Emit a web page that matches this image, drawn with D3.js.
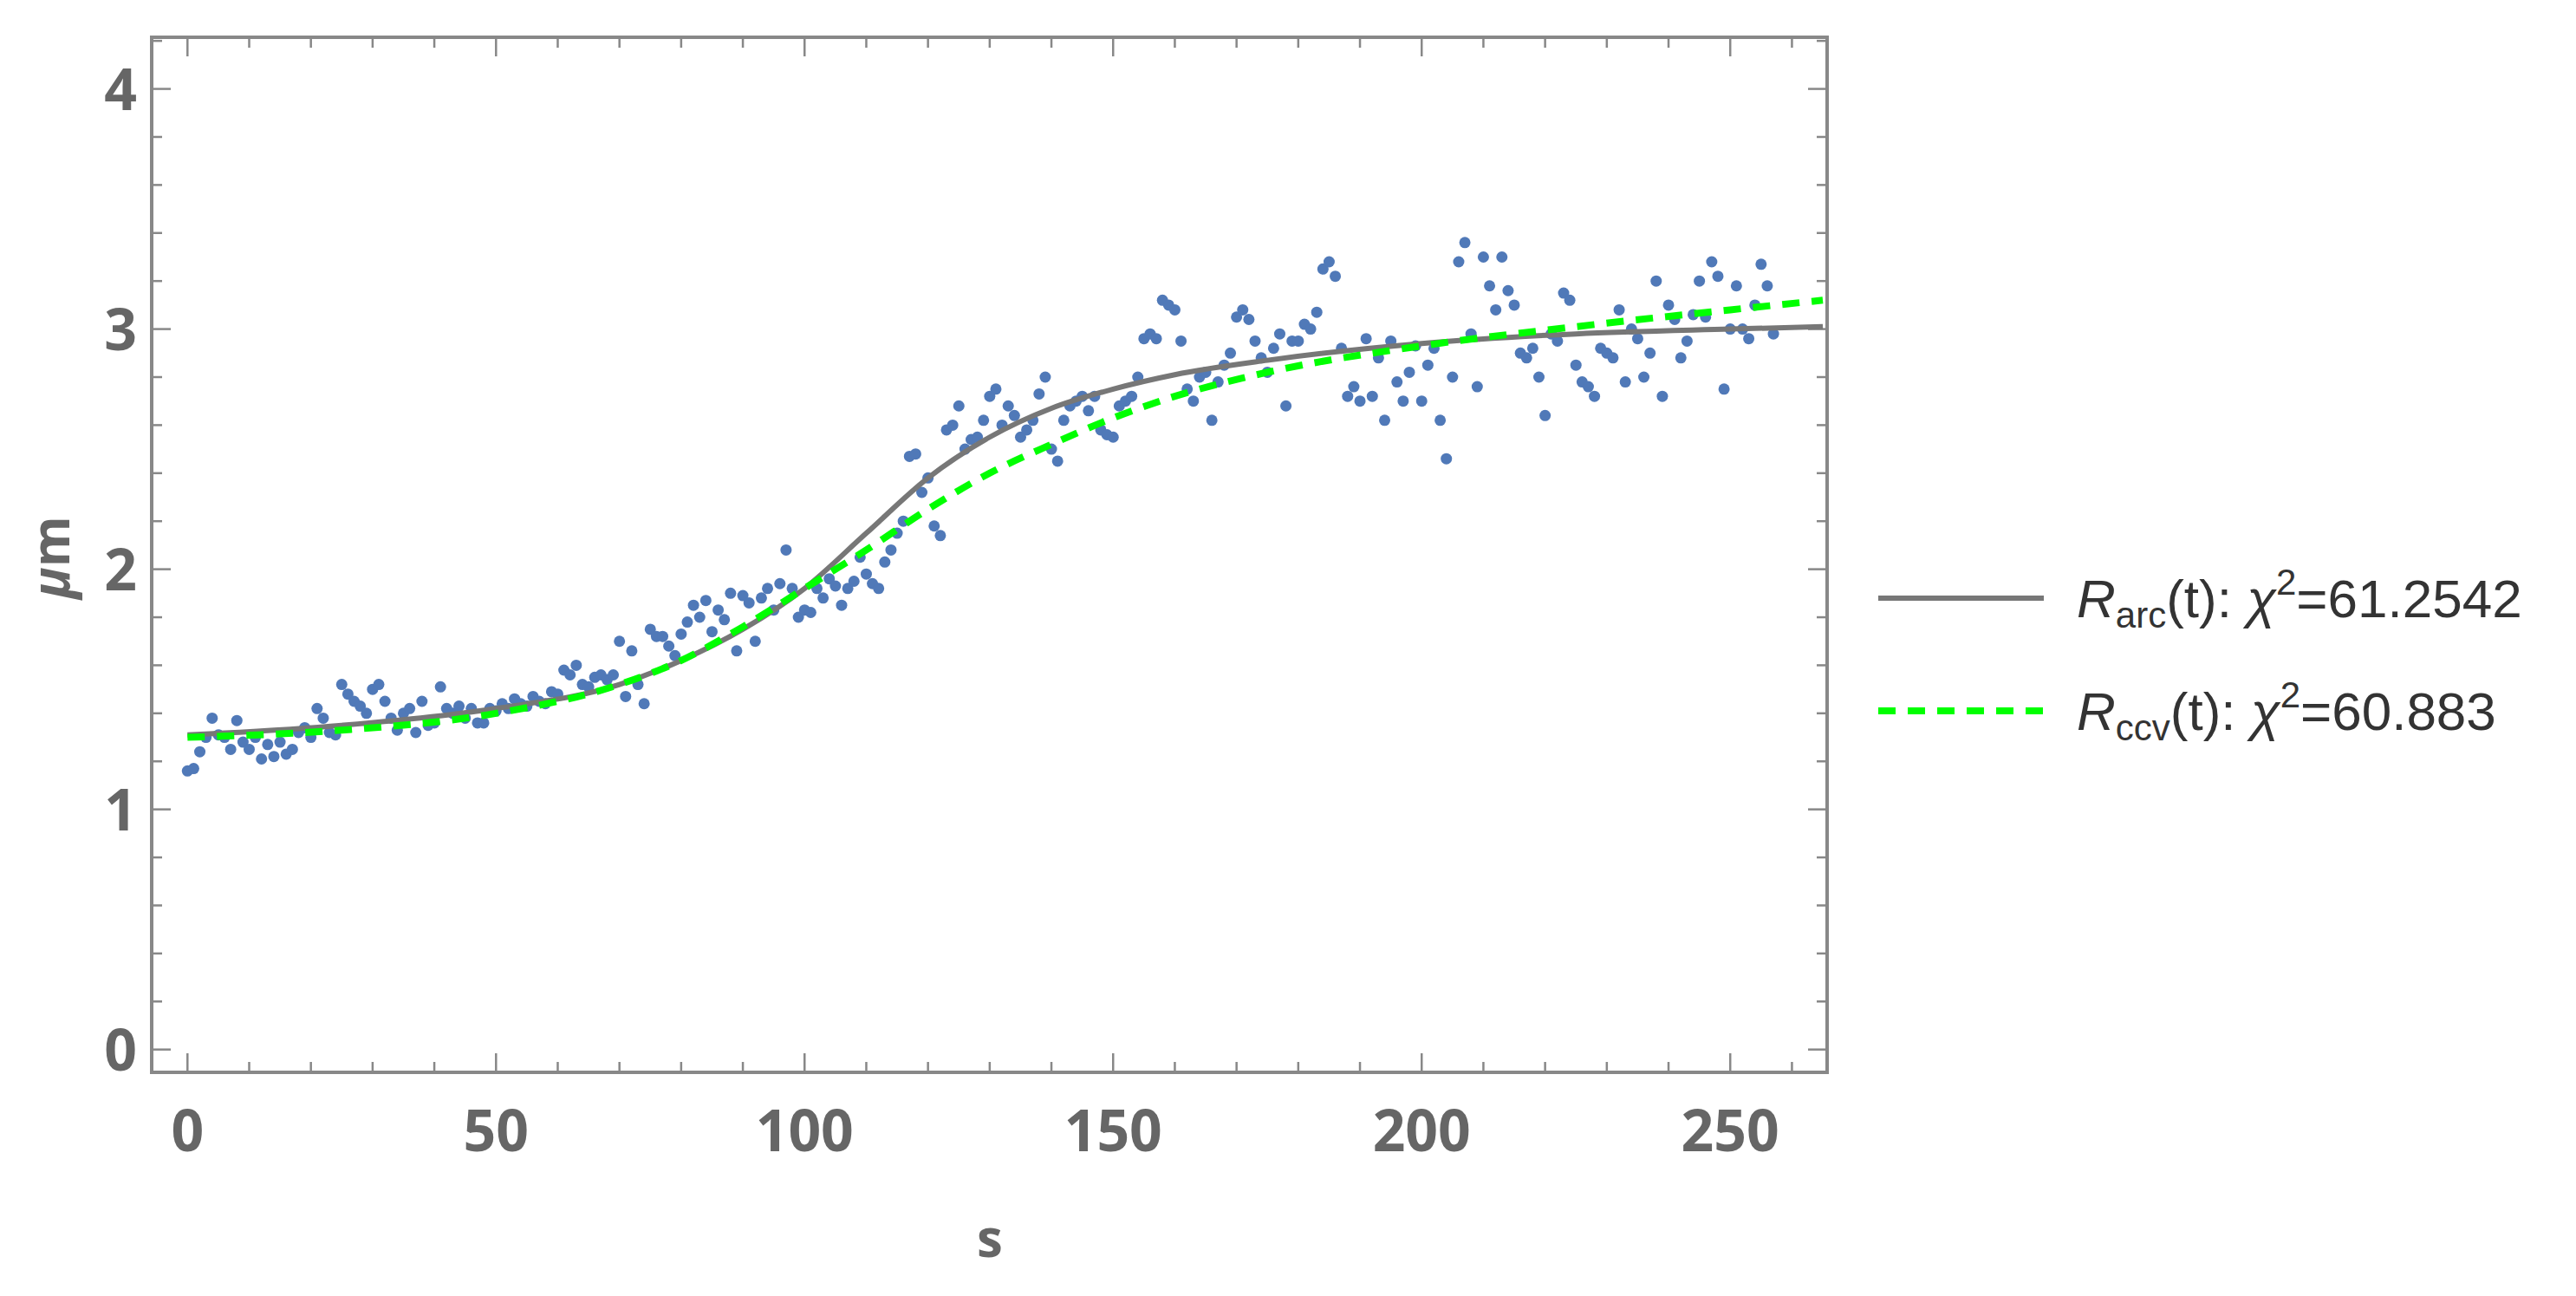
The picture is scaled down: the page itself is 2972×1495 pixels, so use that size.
<!DOCTYPE html>
<html>
<head>
<meta charset="utf-8">
<script src="https://cdn.jsdelivr.net/npm/d3@7"></script>
<style>
  body { margin: 0; background: #fff; }
  svg { display: block; }
</style>
</head>
<body>
<svg width="2972" height="1495"></svg>
<script>
// measured points, s = 0,1,2,...
var obsY = [
  1.16,1.17,1.24,1.30,1.38,1.31,1.30,1.25,1.37,1.28,
  1.25,1.30,1.21,1.27,1.22,1.28,1.23,1.25,1.32,1.34,
  1.30,1.42,1.38,1.32,1.31,1.52,1.48,1.45,1.43,1.40,
  1.50,1.52,1.45,1.38,1.33,1.40,1.42,1.32,1.45,1.35,
  1.36,1.51,1.42,1.40,1.43,1.38,1.42,1.36,1.36,1.42,
  1.41,1.44,1.42,1.46,1.44,1.43,1.47,1.45,1.44,1.49,
  1.48,1.58,1.56,1.60,1.52,1.51,1.55,1.56,1.54,1.56,
  1.70,1.47,1.66,1.52,1.44,1.75,1.72,1.72,1.68,1.64,
  1.73,1.78,1.85,1.80,1.87,1.74,1.83,1.79,1.90,1.66,
  1.89,1.86,1.70,1.88,1.92,1.83,1.94,2.08,1.92,1.80,
  1.83,1.82,1.92,1.88,1.96,1.93,1.85,1.92,1.95,2.05,
  1.98,1.94,1.92,2.03,2.08,2.15,2.20,2.47,2.48,2.32,
  2.38,2.18,2.14,2.58,2.60,2.68,2.50,2.54,2.55,2.62,
  2.72,2.75,2.60,2.68,2.64,2.55,2.58,2.62,2.73,2.80,
  2.50,2.45,2.62,2.68,2.70,2.72,2.66,2.72,2.58,2.56,
  2.55,2.68,2.70,2.72,2.80,2.96,2.98,2.96,3.12,3.10,
  3.08,2.95,2.75,2.70,2.80,2.82,2.62,2.78,2.85,2.90,
  3.05,3.08,3.04,2.95,2.88,2.82,2.92,2.98,2.68,2.95,
  2.95,3.02,3.00,3.07,3.25,3.28,3.22,2.92,2.72,2.76,
  2.70,2.96,2.72,2.88,2.62,2.95,2.78,2.70,2.82,2.93,
  2.70,2.85,2.92,2.62,2.46,2.80,3.28,3.36,2.98,2.76,
  3.30,3.18,3.08,3.30,3.16,3.10,2.90,2.88,2.92,2.80,
  2.64,2.98,2.95,3.15,3.12,2.85,2.78,2.76,2.72,2.92,
  2.90,2.88,3.08,2.78,3.00,2.96,2.80,2.90,3.20,2.72,
  3.10,3.04,2.88,2.95,3.06,3.20,3.05,3.28,3.22,2.75,
  3.00,3.18,3.00,2.96,3.10,3.27,3.18,2.98
];

// fitted curves
var fitS    = [0, 25, 50, 70, 80, 90, 100, 110, 120, 130, 140, 150, 160, 175, 200, 225, 250, 265];
var arcY    = [1.31,1.35,1.42,1.52,1.62,1.75,1.92,2.15,2.38,2.55,2.67,2.75,2.81,2.87,2.94,2.98,3.00,3.01];
var ccvY    = [1.30,1.33,1.40,1.52,1.62,1.76,1.92,2.08,2.25,2.40,2.52,2.63,2.72,2.82,2.93,3.01,3.08,3.12];

var xTicks = [0, 50, 100, 150, 200, 250];
var yTicks = [0, 1, 2, 3, 4];

var legendItems = [
  {sub: "arc", chi: "61.2542", color: "#777", dash: null, width: 6},
  {sub: "ccv", chi: "60.883", color: "#00ff00", dash: "20,14", width: 8}
];

var svg = d3.select("svg");
var L = 175, R = 2108, T = 43, B = 1237;

var x = d3.scaleLinear().domain([-5.8, 265.7]).range([L, R]);
var y = d3.scaleLinear().domain([-0.095, 4.215]).range([B, T]);

var frameColor = "#888";
var labelColor = "#666";

// ticks (inward, all four sides)
var xMinor = d3.range(0, 266, 10);
var yMinor = d3.range(0, 4.21, 0.2);

function tickLen(major) { return major ? 22 : 12; }

xMinor.forEach(function(v) {
  var major = v % 50 === 0;
  var px = x(v);
  svg.append("line").attr("x1", px).attr("x2", px).attr("y1", B).attr("y2", B - tickLen(major))
    .attr("stroke", frameColor).attr("stroke-width", 2.5);
  svg.append("line").attr("x1", px).attr("x2", px).attr("y1", T).attr("y2", T + tickLen(major))
    .attr("stroke", frameColor).attr("stroke-width", 2.5);
});
yMinor.forEach(function(v) {
  var major = Math.abs(v - Math.round(v)) < 1e-6;
  var py = y(v);
  svg.append("line").attr("x1", L).attr("x2", L + tickLen(major)).attr("y1", py).attr("y2", py)
    .attr("stroke", frameColor).attr("stroke-width", 2.5);
  svg.append("line").attr("x1", R).attr("x2", R - tickLen(major)).attr("y1", py).attr("y2", py)
    .attr("stroke", frameColor).attr("stroke-width", 2.5);
});

svg.append("rect").attr("x", L).attr("y", T).attr("width", R - L).attr("height", B - T)
  .attr("fill", "none").attr("stroke", frameColor).attr("stroke-width", 4);

// tick labels
svg.selectAll(".xl").data(xTicks).join("text")
  .attr("x", d => x(d)).attr("y", 1328)
  .attr("text-anchor", "middle")
  .attr("font-family", "Open Sans, sans-serif").attr("font-weight", "bold")
  .attr("font-size", 66).attr("fill", labelColor)
  .text(d => d);
svg.selectAll(".yl").data(yTicks).join("text")
  .attr("x", 158).attr("y", d => y(d) + 24)
  .attr("text-anchor", "end")
  .attr("font-family", "Open Sans, sans-serif").attr("font-weight", "bold")
  .attr("font-size", 66).attr("fill", labelColor)
  .text(d => d);

// axis titles
svg.append("text").attr("x", 1142).attr("y", 1450).attr("text-anchor", "middle")
  .attr("font-family", "Open Sans, sans-serif").attr("font-weight", "bold")
  .attr("font-size", 60).attr("fill", labelColor).text("s");
var yt = svg.append("text").attr("transform", "translate(80,643) rotate(-90)")
  .attr("text-anchor", "middle")
  .attr("font-family", "Open Sans, sans-serif").attr("font-weight", "bold")
  .attr("font-size", 60).attr("fill", labelColor);
yt.append("tspan").attr("font-style", "italic").text("\u03bc");
yt.append("tspan").text("m");

// points
var plotG = svg.append("g");
plotG.selectAll("circle").data(obsY).join("circle")
  .attr("cx", (d, i) => x(i)).attr("cy", d => y(d)).attr("r", 6.5)
  .attr("fill", "#5079b8");

var line = d3.line().x(d => x(d[0])).y(d => y(d[1])).curve(d3.curveMonotoneX);
plotG.append("path").datum(fitS.map((s, i) => [s, arcY[i]]))
  .attr("d", line).attr("fill", "none").attr("stroke", "#777").attr("stroke-width", 6);
plotG.append("path").datum(fitS.map((s, i) => [s, ccvY[i]]))
  .attr("d", line).attr("fill", "none").attr("stroke", "#00ff00").attr("stroke-width", 8)
  .attr("stroke-dasharray", "20,14");

// legend
legendItems.forEach(function(it, i) {
  var ly = 690 + i * 130;
  var l = svg.append("line").attr("x1", 2167).attr("x2", 2358).attr("y1", ly).attr("y2", ly)
    .attr("stroke", it.color).attr("stroke-width", it.width);
  if (it.dash) l.attr("stroke-dasharray", it.dash);
  var t = svg.append("text").attr("x", 2396).attr("y", ly + 22)
    .attr("font-family", "Liberation Sans Narrow, Arial Narrow, Liberation Sans, sans-serif")
    .attr("font-size", 62).attr("fill", "#333");
  t.append("tspan").attr("font-style", "italic").text("R");
  t.append("tspan").attr("font-size", 42).attr("dy", 12).text(it.sub);
  t.append("tspan").attr("dy", -12).text("(t): ");
  t.append("tspan").attr("font-style", "italic").text("\u03c7");
  t.append("tspan").attr("font-size", 42).attr("dy", -26).text("2");
  t.append("tspan").attr("dy", 26).text("=" + it.chi);
});
</script>
</body>
</html>
